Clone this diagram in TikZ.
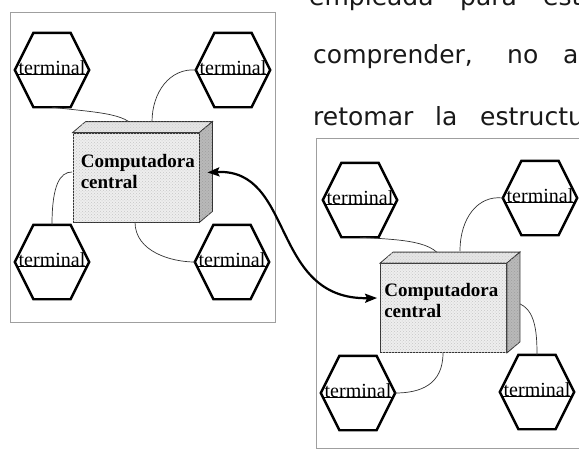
\documentclass[tikz,border=0pt]{standalone}
\usepackage{fontspec}
\setmainfont{Liberation Serif}
\newfontfamily\versfont{DejaVu Sans}
\usetikzlibrary{calc,patterns,arrows.meta}
\definecolor{inkgray}{RGB}{25,25,25}
\tikzset{
  frame/.style={draw=gray!75, line width=0.8pt},
  hexbox/.style={minimum width=74pt, minimum height=74pt, inner sep=0pt},
  hexline/.style={draw=black, line width=2.4pt, line join=miter},
  termtext/.style={font=\fontsize{20}{24}\selectfont, inner sep=0pt, anchor=base},
  underl/.style={draw=black, line width=0.6pt},
  link/.style={draw=gray!40!black, line width=0.7pt},
  front/.style={draw=gray!40!black, line width=0.8pt, fill=gray!13,
    postaction={pattern=crosshatch dots, pattern color=gray!45}},
  topface/.style={draw=gray!40!black, line width=0.8pt, fill=gray!20,
    postaction={pattern=crosshatch dots, pattern color=gray!40}},
  sideface/.style={draw=gray!40!black, line width=0.8pt, fill=gray!55,
    postaction={pattern=crosshatch dots, pattern color=gray!75}},
  cputext/.style={font=\bfseries\fontsize{19}{22}\selectfont, inner sep=0pt, anchor=base west},
  bodytext/.style={font=\versfont\fontsize{25}{30}\selectfont, text=inkgray, inner sep=0pt, anchor=base west},
  bigarrow/.style={draw=black, line width=2.2pt, {Stealth[length=12pt,width=9pt,inset=2pt]}-{Stealth[length=12pt,width=9pt,inset=2pt]}},
}
\newcommand\hexterm[2]{%
  \node[hexbox] (#1) at (#2) {};
  \draw[hexline] (#1.west) -- ($(#1.north west)!.25!(#1.north east)$)
    -- ($(#1.north west)!.75!(#1.north east)$) -- (#1.east)
    -- ($(#1.south west)!.75!(#1.south east)$)
    -- ($(#1.south west)!.25!(#1.south east)$) -- cycle;
  \node[termtext] (#1t) at ($(#1.center)+(0,4)$) {terminal};
  \draw[underl] ($(#1.west)+(2,4)$) -- ($(#1.east)+(-2,4)$);
}
\newcommand\cpubox[4]{% name, front centre, text x offset, first baseline offset
  \node[front, minimum width=126pt, minimum height=89pt, inner sep=0pt] (#1) at (#2) {};
  \draw[topface] (#1.north west) -- ++(13,-11) -- ($(#1.north east)+(13,-11)$) -- (#1.north east) -- cycle;
  \draw[sideface] (#1.north east) -- ++(13,-11) -- ($(#1.south east)+(13,-11)$) -- (#1.south east) -- cycle;
  \node[cputext] (#1a) at ($(#1.north west)+(#3,#4)$) {Computadora};
  \node[cputext] (#1b) at ($(#1a.base west)+(0,21)$) {central};
}
\begin{document}
\begin{tikzpicture}[x=1pt,y=-1pt]
  \clip (0,0) rectangle (579,450);
  \fill[white] (0,0) rectangle (579,450);

  % body text (top right)
  \node[bodytext] (w1) at (309,5) {empleada};
  \node[bodytext] (w2) at (460,5) {para};
  \node[bodytext] (w3) at (543,5) {esta};
  \node[bodytext] (w4) at (313,63) {comprender,};
  \node[bodytext] (w5) at (507,63) {no};
  \node[bodytext] (w6) at (563,63) {a};
  \node[bodytext] (w7) at (313,125) {retomar};
  \node[bodytext] (w8) at (435,125) {la};
  \node[bodytext] (w9) at (480,125) {estructu};

  % frames
  \draw[frame] (10,12) rectangle (275,322);
  \draw[frame] (316,138) rectangle (590,448);

  % left group
  \coordinate (l1) at (137,133);
  \coordinate (l2) at (152,122);
  \coordinate (l3) at (72,172);
  \coordinate (l4) at (135,222);
  \hexterm{ha}{52,70}
  \hexterm{hb}{233,70}
  \hexterm{hc}{52,262}
  \hexterm{hd}{232,262}
  \draw[link] (ha.south) .. controls (100,113) and (132,113) .. (l1);
  \draw[link] (hb.west) .. controls (170,68) and (152,92) .. (l2);
  \draw[link] (hc.north) .. controls (52,185) and (60,172) .. (l3);
  \draw[link] (l4) .. controls (135,252) and (172,262) .. (hd.west);
  \cpubox{cpua}{136,177.5}{8}{35}

  % right group
  \coordinate (r1) at (443,263);
  \coordinate (r2) at (460,251);
  \coordinate (r3) at (443,353);
  \coordinate (r4) at (513,302);
  \hexterm{he}{360,200}
  \hexterm{hf}{540,198}
  \hexterm{hg}{358,393}
  \hexterm{hh}{537,392}
  \draw[link] (he.south) .. controls (400,240) and (438,240) .. (r1);
  \draw[link] (hf.west) .. controls (478,195) and (460,218) .. (r2);
  \draw[link] (r3) .. controls (443,385) and (420,393) .. (hg.east);
  \draw[link] (r4) .. controls (535,305) and (537,330) .. (hh.north);
  \cpubox{cpub}{443.5,308}{4}{33}

  % connection between the two computers
  \coordinate (ta) at ($(cpua.east)+(8,-5)$);
  \coordinate (tb) at ($(cpub.west)+(-3,-10)$);
  \draw[bigarrow] (ta) .. controls (295,168) and (270,300) .. (tb);
\end{tikzpicture}
\end{document}
